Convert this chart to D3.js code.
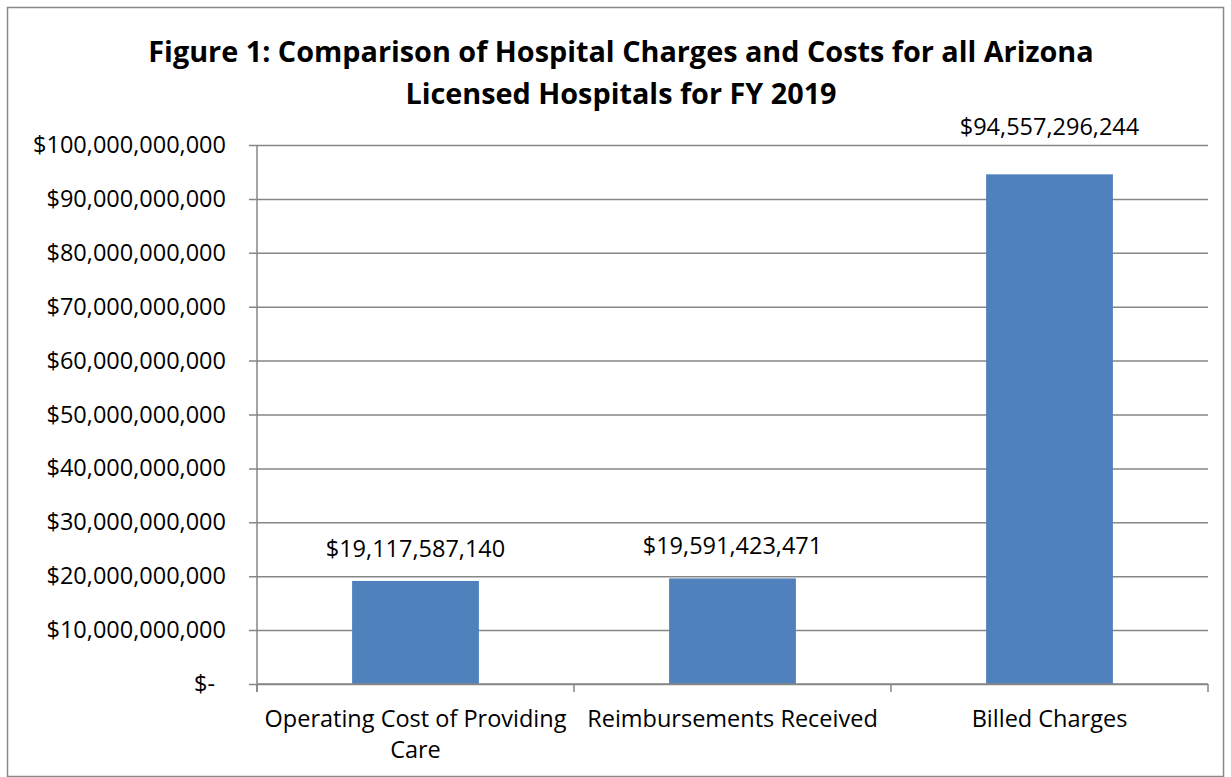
<!DOCTYPE html>
<html>
<head>
<meta charset="utf-8">
<script src="https://cdn.jsdelivr.net/npm/d3@7"></script>
<style>
  body { margin: 0; background: #fff; }
  svg { display: block; font-family: "Open Sans", "Noto Sans", sans-serif; }
</style>
</head>
<body>
<div id="chart"></div>
<script>
// data
const categories = ["Operating Cost of Providing Care", "Reimbursements Received", "Billed Charges"];
const categoryLines = [["Operating Cost of Providing", "Care"], ["Reimbursements Received"], ["Billed Charges"]];
const values = [19117587140, 19591423471, 94557296244];
const yTicks = [0, 10e9, 20e9, 30e9, 40e9, 50e9, 60e9, 70e9, 80e9, 90e9, 100e9];
const titleLines = ["Figure 1: Comparison of Hospital Charges and Costs for all Arizona", "Licensed Hospitals for FY 2019"];

const W = 1231, H = 777;
const plot = { left: 257, right: 1208, top: 145, bottom: 684 };
const labelSize = 23.5;

const svg = d3.select("#chart").append("svg")
    .attr("width", W)
    .attr("height", H);

// outer frame
svg.append("rect")
    .attr("x", 7.5).attr("y", 7.5)
    .attr("width", W - 15).attr("height", H - 8)
    .attr("fill", "#fff")
    .attr("stroke", "#898989")
    .attr("stroke-width", 1.5);

// title
svg.append("text")
    .attr("x", 621)
    .attr("y", 62)
    .attr("text-anchor", "middle")
    .attr("font-size", "28.8px")
    .attr("font-weight", "bold")
    .attr("fill", "#000")
    .selectAll("tspan")
    .data(titleLines)
    .join("tspan")
    .attr("x", 621)
    .attr("dy", (d, i) => i === 0 ? 0 : 42)
    .text(d => d);

// scales
const x = d3.scaleBand()
    .domain(categories)
    .range([plot.left, plot.right])
    .paddingInner(0.6)
    .paddingOuter(0.3);

const y = d3.scaleLinear()
    .domain([0, 100e9])
    .range([plot.bottom, plot.top]);

const fmtMoney = v => v === 0 ? "$-" : "$" + d3.format(",")(v);

// gridlines
const yAxis = svg.append("g")
    .attr("transform", `translate(${plot.left},0)`)
    .call(d3.axisLeft(y)
        .tickValues(yTicks)
        .tickSize(-(plot.right - plot.left))
        .tickSizeOuter(0)
        .tickFormat(() => ""));
yAxis.select(".domain").remove();
yAxis.selectAll(".tick line")
    .attr("x1", -8)
    .attr("stroke", "#868686")
    .attr("stroke-width", 1.5);

// y labels
svg.append("g")
    .selectAll("text")
    .data(yTicks)
    .join("text")
    .attr("x", d => d === 0 ? 194 : 226)
    .attr("y", d => y(d) + 8)
    .attr("text-anchor", d => d === 0 ? "start" : "end")
    .attr("font-size", labelSize + "px")
    .attr("fill", "#000")
    .text(fmtMoney);

// bars
svg.append("g")
    .selectAll("rect")
    .data(values)
    .join("rect")
    .attr("x", (d, i) => x(categories[i]))
    .attr("y", d => y(d))
    .attr("width", x.bandwidth())
    .attr("height", d => y(0) - y(d))
    .attr("fill", "#4F81BD");

// y axis line
svg.append("line")
    .attr("x1", plot.left).attr("x2", plot.left)
    .attr("y1", plot.top).attr("y2", plot.bottom + 8)
    .attr("stroke", "#868686")
    .attr("stroke-width", 1.5);

// x axis line + category ticks
svg.append("line")
    .attr("x1", plot.left).attr("x2", plot.right)
    .attr("y1", plot.bottom).attr("y2", plot.bottom)
    .attr("stroke", "#868686")
    .attr("stroke-width", 1.5);

const boundaries = d3.range(categories.length + 1).map(i => plot.left + i * (plot.right - plot.left) / categories.length);
svg.append("g")
    .selectAll("line")
    .data(boundaries)
    .join("line")
    .attr("x1", d => d).attr("x2", d => d)
    .attr("y1", plot.bottom).attr("y2", plot.bottom + 8)
    .attr("stroke", "#868686")
    .attr("stroke-width", 1.5);

// category labels
svg.append("g")
    .selectAll("text")
    .data(categories)
    .join("text")
    .attr("text-anchor", "middle")
    .attr("font-size", labelSize + "px")
    .attr("fill", "#000")
    .each(function (d, i) {
        const cx = x(d) + x.bandwidth() / 2;
        d3.select(this).selectAll("tspan")
            .data(categoryLines[i])
            .join("tspan")
            .attr("x", cx)
            .attr("y", (t, j) => 727 + j * 31)
            .text(t => t);
    });

// value labels (moved above the top gridline when they would sit on it)
const labelY = d => {
    const ly = y(d) - 24;
    return ly - 18 < plot.top ? plot.top - 10 : ly;
};
svg.append("g")
    .selectAll("text")
    .data(values)
    .join("text")
    .attr("x", (d, i) => x(categories[i]) + x.bandwidth() / 2)
    .attr("y", labelY)
    .attr("text-anchor", "middle")
    .attr("font-size", labelSize + "px")
    .attr("fill", "#000")
    .text(d => "$" + d3.format(",")(d));
</script>
</body>
</html>
